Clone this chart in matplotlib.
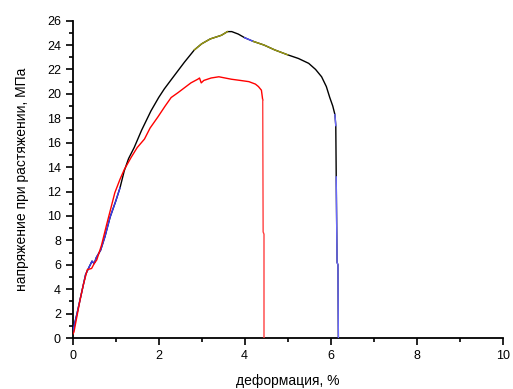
import numpy as np
import matplotlib
matplotlib.use('Agg')
import matplotlib.pyplot as plt
from matplotlib.ticker import MultipleLocator

plt.rcParams['font.family'] = ['Liberation Sans', 'DejaVu Sans']

# sample 1 (black, with blue / olive pieces)
black_x = [0.0, 0.1, 0.2, 0.3, 0.38, 0.45, 0.5, 0.55, 0.65, 0.75, 0.87, 1.0, 1.1, 1.2,
           1.3, 1.43, 1.6, 1.82, 2.0, 2.13, 2.3, 2.45, 2.6, 2.83, 3.0, 3.2, 3.46, 3.6,
           3.7, 3.85, 4.0, 4.2, 4.45, 4.7, 5.0, 5.25, 5.49, 5.65, 5.79, 5.9, 5.98, 6.05,
           6.1, 6.12, 6.13, 6.13, 6.15, 6.17, 6.18]
black_y = [0.5, 2.0, 3.6, 5.2, 5.8, 6.3, 6.1, 6.6, 7.2, 8.3, 9.9, 11.2, 12.3, 13.7,
           14.7, 15.6, 17.0, 18.6, 19.7, 20.4, 21.2, 21.9, 22.6, 23.6, 24.1, 24.5, 24.8, 25.1,
           25.1, 24.9, 24.6, 24.3, 24.0, 23.6, 23.2, 22.9, 22.5, 22.0, 21.4, 20.6, 19.7, 19.0,
           18.3, 17.4, 13.2, 13.0, 6.2, 6.0, 0.0]
# index ranges of the coloured pieces
black_pieces = [(0, 12, '#3a3af0'), (23, 27, '#9a9a10'), (30, 31, '#5050ff'),
                (31, 34, '#9a9a10'), (42, 43, '#6a6aff'), (44, 49, '#6a6aff')]

# sample 2 (red)
red_x = [0.0, 0.03, 0.1, 0.17, 0.25, 0.34, 0.44, 0.5, 0.56, 0.67, 0.79, 0.9, 0.98, 1.1,
         1.2, 1.36, 1.5, 1.67, 1.8, 1.98, 2.15, 2.29, 2.45, 2.6, 2.75, 2.91, 2.95, 2.99,
         3.05, 3.22, 3.4, 3.69, 3.9, 4.1, 4.25, 4.32, 4.39, 4.42, 4.43, 4.45, 4.45]
red_y = [0.3, 0.5, 1.8, 3.1, 4.4, 5.6, 5.7, 6.1, 6.4, 7.6, 9.3, 10.8, 11.9, 13.0,
         13.8, 14.8, 15.6, 16.3, 17.2, 18.1, 19.0, 19.7, 20.1, 20.5, 20.9, 21.2, 21.3, 20.9,
         21.1, 21.3, 21.4, 21.2, 21.1, 21.0, 20.8, 20.6, 20.3, 19.5, 8.7, 8.5, 0.0]

fig = plt.figure(figsize=(5.13, 3.89), dpi=100)
ax = fig.add_axes([0.1417, 0.131, 0.838, 0.816])

ax.plot(black_x, black_y, color='black', lw=1.0, zorder=3)
for i0, i1, c in black_pieces:
    ax.plot(black_x[i0:i1 + 1], black_y[i0:i1 + 1], color=c, lw=1.0, zorder=3)
ax.plot(red_x[:-3], red_y[:-3], color='#ff0000', lw=1.0, zorder=4)
ax.plot(red_x[-4:], red_y[-4:], color='#ff4040', lw=1.0, zorder=4)

ax.set_xlim(0, 10)
ax.set_ylim(0, 26)
ax.xaxis.set_major_locator(MultipleLocator(2))
ax.xaxis.set_minor_locator(MultipleLocator(1))
ax.yaxis.set_major_locator(MultipleLocator(2))
ax.yaxis.set_minor_locator(MultipleLocator(1))
ax.spines['top'].set_visible(False)
ax.spines['right'].set_visible(False)
ax.spines['left'].set_linewidth(1.3)
ax.spines['bottom'].set_linewidth(1.3)
ax.tick_params(which='major', direction='out', length=5, width=1.2, labelsize=9,
               colors='black')
ax.tick_params(which='minor', direction='out', length=3, width=1.2)

ax.set_xlabel('деформация, %', fontsize=10, labelpad=9)
ax.set_ylabel('напряжение при растяжении, МПа', fontsize=10, labelpad=13)

fig.savefig('out.png', dpi=100)
